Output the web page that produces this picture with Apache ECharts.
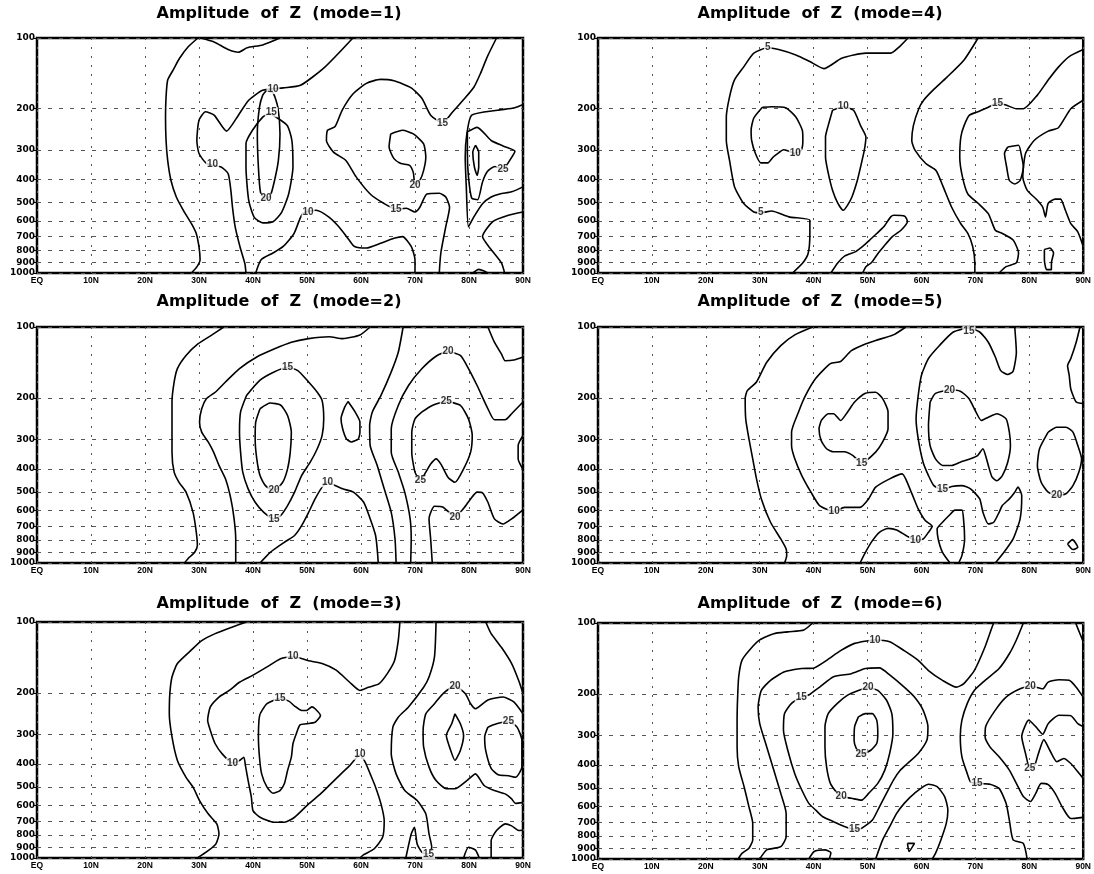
<!DOCTYPE html>
<html>
<head>
<meta charset="utf-8">
<script src="https://cdn.jsdelivr.net/npm/echarts@6/dist/echarts.min.js"></script>
<style>
html, body { margin: 0; padding: 0; background: #fff; }
#chart { width: 1094px; height: 874px; }
</style>
</head>
<body>
<div id="chart"></div>
<script>
// pressure levels (hPa) used as y ticks, latitudes used as x ticks
const pressureLevels = [100, 200, 300, 400, 500, 600, 700, 800, 900, 1000];
const latTicks = [0, 10, 20, 30, 40, 50, 60, 70, 80, 90];
const modes = [1, 4, 2, 5, 3, 6];

// contour lines, each point is [latitude, pressure]
const mode1Lines = [
    [[29.8,100],[28,109],[26.4,122],[25.2,137],[24.2,151],[23.9,178],[23.8,217],[23.9,273],[24.2,332],[24.8,403],[25.8,475],[27.1,541],[28.6,617],[29.5,680],[30,775],[30.2,878],[29.6,942],[28.6,1000]],
    [[30.3,100],[32.8,104],[35.4,112],[37.3,115],[38.9,110],[41.8,107],[45,100]],
    [[58.5,100],[53.3,133],[48.8,159],[45.6,163],[41.8,167],[39.2,184],[37.3,213],[35.1,249],[32.8,213],[31.2,206],[30,224],[29.6,273],[30,310],[31.4,342],[34.1,354],[35.4,378],[35.9,445],[36.2,524],[36.7,637],[37.6,775],[38.5,913],[38.7,1000]],
    [[40.5,1000],[41.5,878],[43.7,822],[45.6,771],[47.6,679],[49.2,559],[51.7,541],[54,577],[55.9,636],[57.8,724],[58.8,771],[61,783],[63.6,748],[66.1,712],[67.7,700],[69.3,771],[70,878],[70,1000]],
    [[85.1,100],[83.4,120],[82.1,142],[80.9,162],[78.9,184],[77,206],[75.1,230],[72.9,213],[71.3,181],[69.3,163],[66.1,152],[63.6,150],[61,156],[58.5,173],[56.5,203],[55.2,238],[53.8,247],[53.6,273],[54.9,306],[57.2,332],[59.1,390],[61.7,461],[64.2,505],[66.5,535],[68.4,530],[70,550],[70.9,525],[72.2,461],[74.5,458],[75.7,475],[76.4,525],[75.7,635],[74.8,818],[74.5,1000]],
    [[65.5,256],[67.7,247],[69.7,256],[71.6,282],[72,321],[71.6,366],[70.9,404],[70,422],[69.7,375],[69,348],[67.4,342],[66.1,326],[65.2,291],[65.5,256]],
    [[43.1,209],[46.3,235],[47.2,273],[47.4,354],[46.6,461],[45.3,552],[43.7,605],[41.8,612],[40.2,578],[39.2,490],[38.7,354],[38.7,281],[39.9,247],[41.8,217],[43.1,209]],
    [[42.4,168],[43.7,171],[44.6,197],[45,256],[44.7,332],[44,403],[43.2,470],[42.4,483],[41.4,455],[41,354],[40.8,256],[41.2,197],[41.8,175],[42.4,168]],
    [[90,192],[88.5,198],[85.3,203],[80.5,213],[79.6,256],[79.3,321],[79.5,430],[79.9,636],[80.9,577],[82.5,507],[84.1,475],[85.7,461],[87.9,451],[90,430]],
    [[79.7,251],[81.5,240],[84.1,273],[86.3,288],[88.5,303],[87.6,330],[86.3,362],[84.8,352],[83.4,370],[82.5,410],[81.6,488],[80.5,480],[79.9,390],[79.7,310],[79.7,251]],
    [[81.2,286],[81.8,306],[81.8,354],[81.5,384],[81,354],[80.7,306],[81.2,286]],
    [[90,550],[87.3,568],[84.4,604],[82.5,700],[84.1,795],[86,905],[86.6,1000]],
    [[80.7,1000],[81.8,965],[82.8,980],[83.5,1000]]
];
const mode1Labels = [[43.7,165,'10'],[32.5,346,'10'],[50.2,550,'10'],[43.4,207,'15'],[75.1,230,'15'],[66.5,535,'15'],[42.4,483,'20'],[70,422,'20'],[86.3,362,'25']];

const mode4Lines = [
    [[57.5,100],[55.9,109],[54.3,116],[49.7,116],[45.2,122],[41.9,135],[39.3,126],[36.7,118],[33.5,112],[31.5,110],[28.9,116],[27,133],[25.3,151],[24.4,178],[23.8,217],[23.8,273],[24.4,332],[25.3,428],[27,505],[28.9,550],[30.2,554],[32.2,545],[35.4,577],[39.3,596],[39.3,679],[39,822],[38,905],[36.1,1000]],
    [[30.5,197],[32.2,196],[34.8,198],[36.7,217],[37.9,247],[38,273],[37.7,300],[36.6,310],[35.4,303],[34.4,299],[33.5,308],[32.5,321],[31.5,340],[30.2,340],[29.2,310],[28.5,273],[28.4,247],[28.9,219],[30.5,197]],
    [[43.5,203],[45.5,196],[47.4,203],[48.7,236],[49.7,264],[49.4,300],[48.7,354],[48.1,404],[47.1,475],[46.3,514],[45.5,541],[44.5,505],[43.5,444],[42.7,375],[42.2,321],[42.2,264],[42.7,236],[43.5,203]],
    [[43.2,1000],[44.5,905],[45.8,846],[47.8,811],[49.1,771],[50.4,724],[51.7,679],[53,636],[54.3,577],[54.9,568],[56.9,573],[57.4,604],[56.2,658],[54.6,700],[53,771],[52,822],[50.7,905],[49.7,940],[49.1,1000]],
    [[70.5,100],[67.9,124],[64.7,147],[62.1,167],[60.4,184],[59.5,200],[58.5,236],[58.2,273],[58.8,300],[60.8,342],[62.7,366],[64,428],[65.6,525],[67.3,617],[68.6,679],[69.5,771],[69.9,905],[69.9,1000]],
    [[90,112],[87.4,120],[85.4,133],[83.5,151],[81.5,175],[78.9,200],[77.6,200],[75.7,193],[74.1,189],[72.4,197],[70.5,206],[68.9,213],[67.9,236],[67.3,264],[67.1,321],[67.6,390],[68.6,461],[70.5,505],[72.4,559],[73.7,658],[75,679],[77,724],[78,822],[77.6,905],[75.7,940],[74.4,1000]],
    [[90,184],[87.7,200],[85.4,241],[83.5,249],[80.9,273],[79.3,310],[78.8,390],[79.6,444],[81.5,490],[82.5,525],[83,577],[83.5,505],[84.8,485],[85.8,485],[86.7,541],[87.7,617],[89,668],[90,771]],
    [[76,291],[78,286],[78.6,321],[78.9,354],[78.3,404],[77.3,418],[76.3,404],[75.8,354],[75.4,310],[76,291]],
    [[82.8,795],[83.8,783],[84.5,822],[84.1,905],[84.1,967],[83.2,967],[82.8,878],[82.8,795]]
];
const mode4Labels = [[31.5,110,'5'],[30.2,554,'5'],[36.6,310,'10'],[45.5,196,'10'],[74.1,189,'15']];

const mode2Lines = [
    [[34.6,100],[32.4,108],[29.8,118],[27.6,132],[26,150],[25.4,171],[25,208],[25,261],[25,339],[25.4,412],[26.3,455],[27.6,501],[28.9,610],[29.5,741],[29.7,844],[29.2,901],[28.2,946],[27.3,1000]],
    [[61.7,100],[59.8,108],[56.6,112],[54.1,110],[50.3,112],[47.1,116],[43.9,124],[40.7,134],[37.5,150],[34.9,171],[33,189],[31.4,201],[30.5,222],[30.1,253],[30.5,279],[31.7,307],[32.7,339],[33.7,386],[34.9,440],[35.9,535],[36.5,650],[36.8,791],[36.8,1000]],
    [[38.8,195],[41.3,168],[43.9,155],[46.4,148],[48.3,153],[50.3,171],[51.9,189],[52.8,205],[53.1,245],[52.8,288],[51.9,328],[50.6,374],[49,426],[47.7,501],[46.4,571],[45.1,630],[43.9,650],[42,610],[40.4,553],[39.1,485],[38.1,412],[37.7,339],[37.5,279],[37.7,229],[38.8,195]],
    [[41.3,222],[43.2,210],[45.1,214],[46.4,237],[47.1,279],[46.9,339],[46.4,399],[45.5,455],[43.9,493],[42.3,470],[41.3,426],[40.7,362],[40.4,298],[40.5,253],[41.3,222]],
    [[41.3,1000],[43.2,901],[45.8,817],[47.7,765],[49,695],[50.3,610],[51.5,535],[52.8,477],[53.8,455],[55,467],[56.6,485],[58.6,501],[60.5,553],[61.7,650],[62.7,765],[63,873],[63.2,1000]],
    [[57.6,207],[58.9,229],[59.8,253],[59.8,279],[59.5,298],[58.2,307],[57.3,298],[56.6,270],[56.3,245],[57,218],[57.6,207]],
    [[67.8,100],[66.9,128],[65.6,155],[63.7,195],[62.1,229],[61.6,261],[61.7,318],[63,386],[64.3,485],[65.6,610],[66.3,791],[66.5,1000]],
    [[69.2,1000],[69.3,791],[69.1,650],[68.1,501],[66.9,412],[65.6,339],[65.6,270],[66.9,215],[68.8,177],[71.3,150],[73.9,133],[76.1,127],[78.4,132],[79.9,150],[81.5,177],[83.5,222],[84.7,247],[86.7,247],[87.9,233],[90,208]],
    [[71.3,229],[73.2,215],[75.8,207],[78.4,215],[79.9,245],[80.6,288],[80.3,339],[79,399],[77.4,455],[76.1,433],[74.8,381],[73.9,362],[72.9,381],[72,412],[71,448],[70,412],[69.4,339],[69.4,279],[70,245],[71.3,229]],
    [[73.2,1000],[72.9,791],[72.6,650],[73.6,575],[75.2,580],[77.4,637],[79,587],[80.3,535],[81.5,501],[82.5,504],[83.5,553],[84.7,650],[86.3,684],[87.9,650],[90,595]],
    [[83.5,100],[84.7,116],[86,130],[86.7,139],[88.3,138],[90,134]],
    [[90,288],[89.1,318],[89.1,362],[90,402]]
];
const mode2Labels = [[46.4,148,'15'],[43.9,650,'15'],[43.9,493,'20'],[53.8,455,'10'],[76.1,127,'20'],[75.8,207,'25'],[71,448,'25'],[77.4,637,'20']];

const mode5Lines = [
    [[39.8,100],[36.5,108],[33.9,120],[31.3,141],[29.4,171],[27.7,186],[27.3,201],[27.4,245],[28,298],[28.7,362],[29.4,440],[30.3,535],[32,672],[33.9,791],[34.9,873],[35,931],[34.6,1000]],
    [[57.1,100],[54.8,108],[51.5,114],[49.6,118],[47,126],[45,140],[43.1,143],[40.4,165],[38.5,195],[37.2,229],[35.9,279],[35.9,318],[36.5,362],[37.8,426],[39.5,501],[41.1,571],[43.8,605],[45.7,581],[48.6,581],[50.2,535],[51.5,477],[54.1,440],[56.4,419],[58.1,501],[59.4,590],[60.7,661],[62,699],[61.3,741],[60.3,791],[58.9,799],[57.4,771],[55.4,724],[53.8,713],[52.2,741],[50.9,804],[49.6,901],[48.6,1000]],
    [[41.4,249],[42.7,233],[43.7,233],[45,249],[46.3,229],[47.6,208],[49.6,191],[51.5,189],[52.8,201],[53.8,229],[53.8,270],[52.8,307],[51.5,339],[48.9,377],[47.3,351],[45.7,338],[43.7,338],[42.4,328],[41.4,303],[41,270],[41.4,249]],
    [[77.3,100],[77.6,128],[77,154],[76,159],[74.7,153],[73.7,134],[72.4,116],[70.8,105],[68.8,101],[65.9,105],[63.3,120],[61.3,136],[60,160],[59.4,195],[59,245],[59.4,298],[60.3,374],[61.3,426],[62.3,470],[63.9,489],[65.6,474],[67.5,470],[69.1,485],[70.8,535],[71.4,610],[72.4,683],[73.4,672],[74.4,610],[75,571],[76.3,535],[77.3,501],[77.9,477],[78.6,518],[78.3,650],[77,791],[75.3,901],[73.7,1000]],
    [[61.6,208],[62.6,191],[65.2,185],[67.2,187],[68.8,201],[70.1,229],[71.1,249],[72.4,241],[74,233],[75.7,245],[76.3,279],[76.5,318],[76,374],[75,426],[74,448],[73.1,433],[72.4,386],[71.9,351],[71.4,328],[70.4,351],[69.1,362],[67.2,374],[65.6,386],[63.9,386],[62.6,362],[61.6,318],[61.3,261],[61.6,208]],
    [[89.4,100],[88.7,116],[87.7,136],[87.1,146],[87.4,160],[87.7,183],[88.7,208],[90,211]],
    [[83.5,279],[85.1,266],[86.8,266],[88.1,279],[89,318],[89.7,362],[89.2,412],[88.1,470],[86.8,509],[85.1,518],[83.5,501],[82.2,455],[81.5,386],[81.9,328],[83.5,279]],
    [[65.3,1000],[63.9,901],[63.1,791],[62.9,716],[63.9,672],[65.3,623],[66.2,597],[67.5,597],[67.8,650],[68,791],[67.5,931],[66.9,1000]],
    [[87.1,830],[88,796],[89,858],[88.1,877],[87.1,830]]
];
const mode5Labels = [[68.8,104,'15'],[65.2,185,'20'],[48.9,377,'15'],[63.9,489,'15'],[43.8,605,'10'],[58.9,799,'10'],[85.1,518,'20']];

const mode3Lines = [
    [[38.8,100],[36.2,105],[33,112],[30.5,120],[28.5,132],[26,150],[25,171],[24.6,201],[24.5,245],[25,307],[26,386],[27.6,455],[28.9,501],[30.1,571],[31.7,650],[33.3,717],[33.7,791],[33.1,873],[31.7,931],[30.8,962],[29.7,1000]],
    [[67.2,100],[66.9,120],[66.2,146],[64.9,165],[63.3,183],[61.4,189],[59.8,195],[57.9,180],[55.4,160],[52.8,150],[50.3,146],[47.4,140],[45.1,143],[42.6,155],[40,168],[37.5,180],[35.6,195],[33.7,208],[32.1,229],[31.6,261],[32.1,288],[33,328],[34.3,362],[36.2,396],[37.5,386],[38.3,374],[38.6,406],[39.1,470],[39.7,553],[40,630],[41.3,672],[43.9,706],[45.8,706],[47.7,672],[50.3,590],[52.5,535],[54.4,485],[56.3,440],[57.9,406],[59.8,365],[60.8,393],[61.7,440],[62.7,501],[63.7,590],[64.3,695],[64,817],[62.4,916],[60.5,968],[59.8,1000]],
    [[41.3,245],[42.6,222],[45,211],[46.7,217],[47.7,227],[49,237],[49.9,237],[50.9,229],[51.5,233],[52.5,249],[51.5,266],[49.9,270],[48.7,273],[48,298],[47.4,328],[47.1,374],[46.4,426],[45.8,485],[45,518],[43.7,532],[42.6,501],[41.6,440],[41.2,374],[41,307],[41.1,261],[41.3,245]],
    [[73.9,100],[73.6,141],[72.6,171],[71.6,189],[68.8,229],[66.9,253],[65.9,279],[65.6,362],[66.5,440],[68.1,518],[70.4,571],[72,650],[72.6,791],[73.1,901],[72.5,962],[71.3,946],[70.4,873],[69.9,741],[69.3,791],[68.3,1000]],
    [[90,581],[88.6,587],[87.9,562],[86.7,535],[84.7,518],[82.8,493],[81.2,440],[79.6,470],[77.4,509],[75.8,509],[73.9,470],[72.6,412],[71.6,339],[71.5,288],[72,245],[73.6,222],[75.2,201],[77.4,187],[79.3,201],[80.3,222],[81.2,233],[83.5,214],[86.3,208],[88.3,218],[90,245]],
    [[83.5,279],[85.1,270],[87.3,264],[88.9,279],[89.8,318],[89.8,412],[88.6,455],[87.3,448],[85.4,444],[84.1,417],[83.1,351],[82.9,307],[83.5,279]],
    [[77.4,245],[78.4,270],[79,303],[78.4,350],[77.4,386],[76.4,339],[75.8,303],[76.8,270],[77.4,245]],
    [[83.1,100],[84.1,112],[86,128],[87.9,150],[89.2,177],[90,201]],
    [[84.1,1000],[84.1,844],[85.1,765],[86.7,717],[87.9,731],[89.2,765],[90,761]],
    [[79,1000],[79.9,901],[81.2,926],[81.9,1000]]
];
const mode3Labels = [[47.4,140,'10'],[36.2,396,'10'],[59.8,365,'10'],[45,211,'15'],[72.5,962,'15'],[77.4,187,'20'],[87.3,264,'25']];

const mode6Lines = [
    [[39.8,100],[38.2,107],[35.2,109],[32.6,111],[30,118],[28,131],[26.7,144],[26.1,169],[25.9,206],[25.8,258],[25.8,335],[26.1,407],[27.1,494],[28,601],[28.7,706],[28.7,830],[28,900],[26.7,947],[26,1000]],
    [[30,1000],[31.3,915],[33.9,887],[34.9,805],[34.9,641],[33.9,527],[32.6,420],[31.3,335],[30,267],[29.7,227],[30.3,193],[32,175],[34.6,161],[37.8,156],[40.1,155],[42.4,144],[45,131],[47.6,122],[51.4,118],[54.1,120],[56.8,131],[59.4,144],[61.3,159],[63.9,175],[66.5,187],[67.8,181],[69.8,159],[71.8,126],[73.1,104],[73.4,100]],
    [[39.1,202],[41.1,187],[43.7,169],[47,164],[49.6,156],[52.2,155],[54.1,166],[56.8,187],[58.7,206],[60.3,234],[61.2,275],[61,314],[59.4,357],[57.4,394],[56.1,420],[54.8,463],[53.5,527],[52.2,601],[50.9,684],[48.9,741],[47.6,749],[45.7,729],[43.7,695],[41.7,662],[40.4,621],[39.1,581],[37.8,510],[36.5,435],[35.2,346],[34.4,284],[34.6,242],[35.9,219],[37.7,207],[39.1,202]],
    [[50.1,187],[48.3,193],[46.3,202],[44.4,219],[42.7,242],[42.1,275],[42.1,335],[42.4,407],[43.1,478],[44.4,527],[45.1,544],[47,553],[48.9,563],[50.2,527],[51.9,478],[53.2,420],[54.1,357],[54.7,294],[54.5,242],[53.5,212],[51.9,193],[50.1,187]],
    [[48.3,250],[49.6,242],[50.9,242],[51.7,258],[51.9,294],[51.7,324],[50.6,346],[48.8,360],[47.9,340],[47.5,314],[47.6,275],[48.3,250]],
    [[51.5,1000],[52.8,830],[54.1,729],[55.4,641],[56.8,581],[58.7,527],[61.3,482],[62.9,494],[64.3,544],[64.9,621],[64.6,706],[63.6,830],[62.6,947],[62,1000]],
    [[39.1,1000],[40.1,929],[42.1,915],[43.2,940],[42.9,1000]],
    [[57.4,859],[58.7,859],[57.7,929],[57.4,859]],
    [[78.9,100],[77.6,118],[76.3,135],[74.4,156],[71.8,175],[69.8,193],[68.5,219],[67.5,258],[67.2,303],[67.5,369],[68.5,435],[69.1,471],[70.3,478],[72.7,482],[74.4,502],[75.7,581],[76.3,684],[77,830],[78.9,859],[79.6,1000]],
    [[90,206],[88.7,187],[87.4,175],[85.5,174],[83.5,178],[82.5,190],[80.2,185],[78.3,190],[75.7,206],[73.7,234],[71.9,275],[71.8,303],[72.7,335],[74.4,369],[76.3,420],[77.6,478],[78.9,544],[80.2,571],[81.2,527],[82.2,478],[83.5,484],[84.8,527],[86.1,601],[87.7,674],[90,666]],
    [[90,275],[89,267],[87.7,247],[85.5,246],[83.5,267],[82.5,296],[81.2,275],[79.9,258],[78.6,303],[79.3,357],[80.1,413],[80.9,407],[81.7,357],[82.7,312],[83.8,346],[85.1,387],[86.4,375],[87.7,394],[89,427],[90,456]],
    [[88.6,100],[89.4,111],[90,120]]
];
const mode6Labels = [[51.4,118,'10'],[37.7,207,'15'],[47.6,749,'15'],[70.3,478,'15'],[50.1,187,'20'],[45.1,544,'20'],[48.8,360,'25'],[80.2,185,'20'],[80.1,413,'25']];

const linesByMode = {1: mode1Lines, 2: mode2Lines, 3: mode3Lines, 4: mode4Lines, 5: mode5Lines, 6: mode6Lines};
const labelsByMode = {1: mode1Labels, 2: mode2Labels, 3: mode3Labels, 4: mode4Labels, 5: mode5Labels, 6: mode6Labels};

// panel boxes in reading order (left column / right column)
const boxes = [
    {left: 37, top: 38, width: 486, height: 235, tx: 279, ty: 14},
    {left: 598, top: 38, width: 488, height: 235, tx: 820, ty: 14},
    {left: 37, top: 327, width: 486, height: 236, tx: 279, ty: 302},
    {left: 598, top: 327, width: 488, height: 236, tx: 820, ty: 302},
    {left: 37, top: 622, width: 486, height: 236, tx: 279, ty: 604},
    {left: 598, top: 623, width: 488, height: 236, tx: 820, ty: 604}
];

const logLevels = pressureLevels.map(p => Math.log10(p));
const toXY = ([lat, p]) => [lat, Math.log10(p)];

const option = {animation: false, grid: [], xAxis: [], yAxis: [], series: [], graphic: []};

modes.forEach((mode, i) => {
    const b = boxes[i];
    option.grid.push({
        left: b.left, top: b.top, width: b.width, height: b.height,
        show: true, borderColor: '#000', borderWidth: 2.5, backgroundColor: 'transparent'
    });
    option.xAxis.push({
        type: 'value', gridIndex: i, min: 0, max: 90, interval: 10,
        axisLine: {show: false},
        axisTick: {show: false},
        axisLabel: {
            formatter: v => v === 0 ? 'EQ' : v + 'N',
            color: '#000', fontSize: 8.5, fontWeight: 'bold', fontFamily: 'Liberation Sans', margin: 3
        },
        splitLine: {show: true, lineStyle: {color: '#555', width: 1, type: [2, 7]}}
    });
    option.yAxis.push({
        type: 'value', gridIndex: i, min: 2, max: 3, inverse: true,
        axisLine: {show: false},
        axisTick: {show: true, length: 4, customValues: logLevels, lineStyle: {color: '#000', width: 1}},
        axisLabel: {
            customValues: logLevels,
            formatter: v => String(Math.round(Math.pow(10, v))),
            color: '#000', fontSize: 9, fontWeight: 'bold', fontFamily: 'DejaVu Sans', margin: 2
        },
        splitLine: {show: true, lineStyle: {color: '#555', width: 1, type: [4, 7]}}
    });

    linesByMode[mode].forEach(line => {
        option.series.push({
            type: 'line', xAxisIndex: i, yAxisIndex: i,
            data: line.map(toXY),
            showSymbol: false, symbol: 'none', smooth: 0.2,
            lineStyle: {color: '#000', width: 1.6},
            silent: true, z: 3
        });
    });

    option.series.push({
        type: 'scatter', xAxisIndex: i, yAxisIndex: i,
        data: labelsByMode[mode].map(([lat, p, t]) => ({name: t, value: [lat, Math.log10(p)]})),
        symbolSize: 1,
        itemStyle: {color: '#fff'},
        label: {
            show: true, position: 'inside', formatter: '{b}',
            color: '#000', fontSize: 10, fontWeight: 'bold', fontFamily: 'Liberation Sans',
            backgroundColor: '#fff', padding: [0, 1, 0, 1]
        },
        silent: true, z: 10
    });

    option.graphic.push({
        type: 'text', x: b.tx, y: b.ty,
        style: {
            text: 'Amplitude  of  Z  (mode=' + mode + ')',
            fill: '#000',
            font: 'bold 16px "DejaVu Sans"',
            align: 'center', verticalAlign: 'middle',
            textAlign: 'center', textVerticalAlign: 'middle'
        }
    });
});

const chart = echarts.init(document.getElementById('chart'), null, {renderer: 'canvas'});
chart.setOption(option);
</script>
</body>
</html>
